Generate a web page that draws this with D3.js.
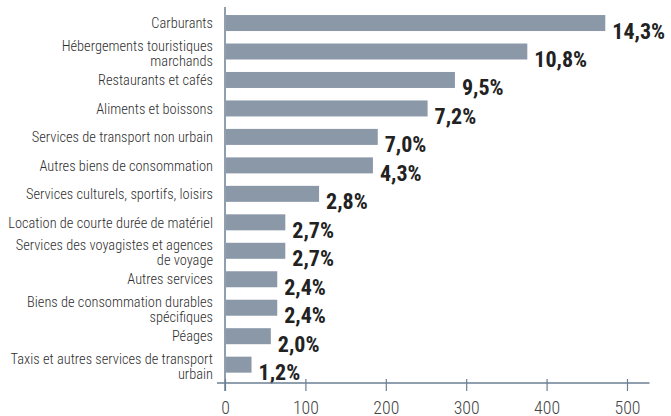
<!DOCTYPE html>
<html>
<head>
<meta charset="utf-8">
<script src="https://cdn.jsdelivr.net/npm/d3@7"></script>
<style>
  body { margin: 0; background: #fff; }
  svg { display: block; }
  text { font-family: "Roboto Condensed", "Liberation Sans Narrow", "Arial Narrow", "DejaVu Sans Condensed", Roboto, sans-serif; }
</style>
</head>
<body>
<svg class="svg" width="671" height="416"></svg>
<script>
// categories (line breaks as in the original)
const categories = [
  "Carburants",
  "Hébergements touristiques\nmarchands",
  "Restaurants et cafés",
  "Aliments et boissons",
  "Services de transport non urbain",
  "Autres biens de consommation",
  "Services culturels, sportifs, loisirs",
  "Location de courte durée de matériel",
  "Services des voyagistes et agences\nde voyage",
  "Autres services",
  "Biens de consommation durables\nspécifiques",
  "Péages",
  "Taxis et autres services de transport\nurbain"
];
const values = [473, 376, 286, 252, 190, 184, 117, 75, 75, 65, 65, 57, 33];
const shares = ["14,3%", "10,8%", "9,5%", "7,2%", "7,0%", "4,3%", "2,8%", "2,7%", "2,7%", "2,4%", "2,4%", "2,0%", "1,2%"];
const tickValues = [0, 100, 200, 300, 400, 500];

const barColor = "#8a98a8";
const axisColor = "#6b7f93";

const svg = d3.select(".svg");

const x = d3.scaleLinear().domain([0, 528]).range([225, 649.5]);
const y = d3.scaleBand().domain(categories).range([8.8, 378.9])
  .paddingInner(0.438).paddingOuter(0.219);

// bars
svg.selectAll(".bar").data(values).join("rect")
  .classed("bar", true)
  .attr("x", x(0) + 1)
  .attr("y", (d, i) => y(categories[i]))
  .attr("width", d => x(d) - x(0) - 1)
  .attr("height", y.bandwidth())
  .attr("fill", barColor);

// share labels
const shareText = svg.selectAll(".share").data(values).join("text")
  .classed("share", true)
  .attr("x", d => x(d) + 7)
  .attr("y", (d, i) => y(categories[i]) + y.bandwidth() + 7.5)
  .attr("font-size", 22)
  .attr("font-weight", "bold")
  .attr("fill", "#222")
  .text((d, i) => shares[i]);

// category labels
const catText = svg.selectAll(".cat").data(categories).join("text")
  .classed("cat", true)
  .attr("text-anchor", "end")
  .attr("font-size", 14.5)
  .attr("font-weight", 300)
  .attr("fill", "#2e2e2e")
  .each(function (d) {
    const lines = d.split("\n");
    const cy = y(d) + y.bandwidth() / 2;
    const t = d3.select(this);
    lines.forEach((l, k) => {
      t.append("tspan")
        .attr("x", 213)
        .attr("y", lines.length === 1 ? cy + 5.2 : cy - 0.3 + k * 14.6)
        .text(l);
    });
  });

// vertical axis line
svg.append("line")
  .attr("x1", x(0)).attr("x2", x(0))
  .attr("y1", 7).attr("y2", 391)
  .attr("stroke", axisColor).attr("stroke-width", 1.5);

// bottom axis
const axisY = 383;
const gx = svg.append("g")
  .attr("transform", `translate(0,${axisY})`)
  .call(d3.axisBottom(x).tickValues(tickValues).tickSize(0).tickPadding(18));
gx.select(".domain").remove();
gx.append("line")
  .attr("x1", 217).attr("x2", x(528))
  .attr("stroke", axisColor).attr("stroke-width", 1.5);
gx.selectAll(".tick").append("line")
  .attr("y1", -4).attr("y2", 8)
  .attr("stroke", axisColor).attr("stroke-width", 1.2);
gx.selectAll(".tick text")
  .attr("font-size", 18)
  .attr("font-weight", 300)
  .attr("font-family", null)
  .attr("fill", "#444");

// squeeze text horizontally to the condensed look of the original
function squeeze(sel, refIndex, target, anchorX) {
  const w = sel.nodes()[refIndex].getBBox().width;
  const k = Math.min(1, target / w);
  sel.attr("transform", function () {
    const ax = anchorX(this);
    return `translate(${ax},0) scale(${k},1) translate(${-ax},0)`;
  });
}
squeeze(catText, 7, 205, () => 213);
squeeze(shareText, 0, 54, function (n) { return +n.getAttribute("x"); });
const ref300 = gx.selectAll(".tick text").filter(function () { return this.textContent === "300"; }).node();
const tk = Math.min(1, 26 / ref300.getBBox().width);
gx.selectAll(".tick text").attr("transform", `scale(${tk},1)`);
</script>
</body>
</html>
